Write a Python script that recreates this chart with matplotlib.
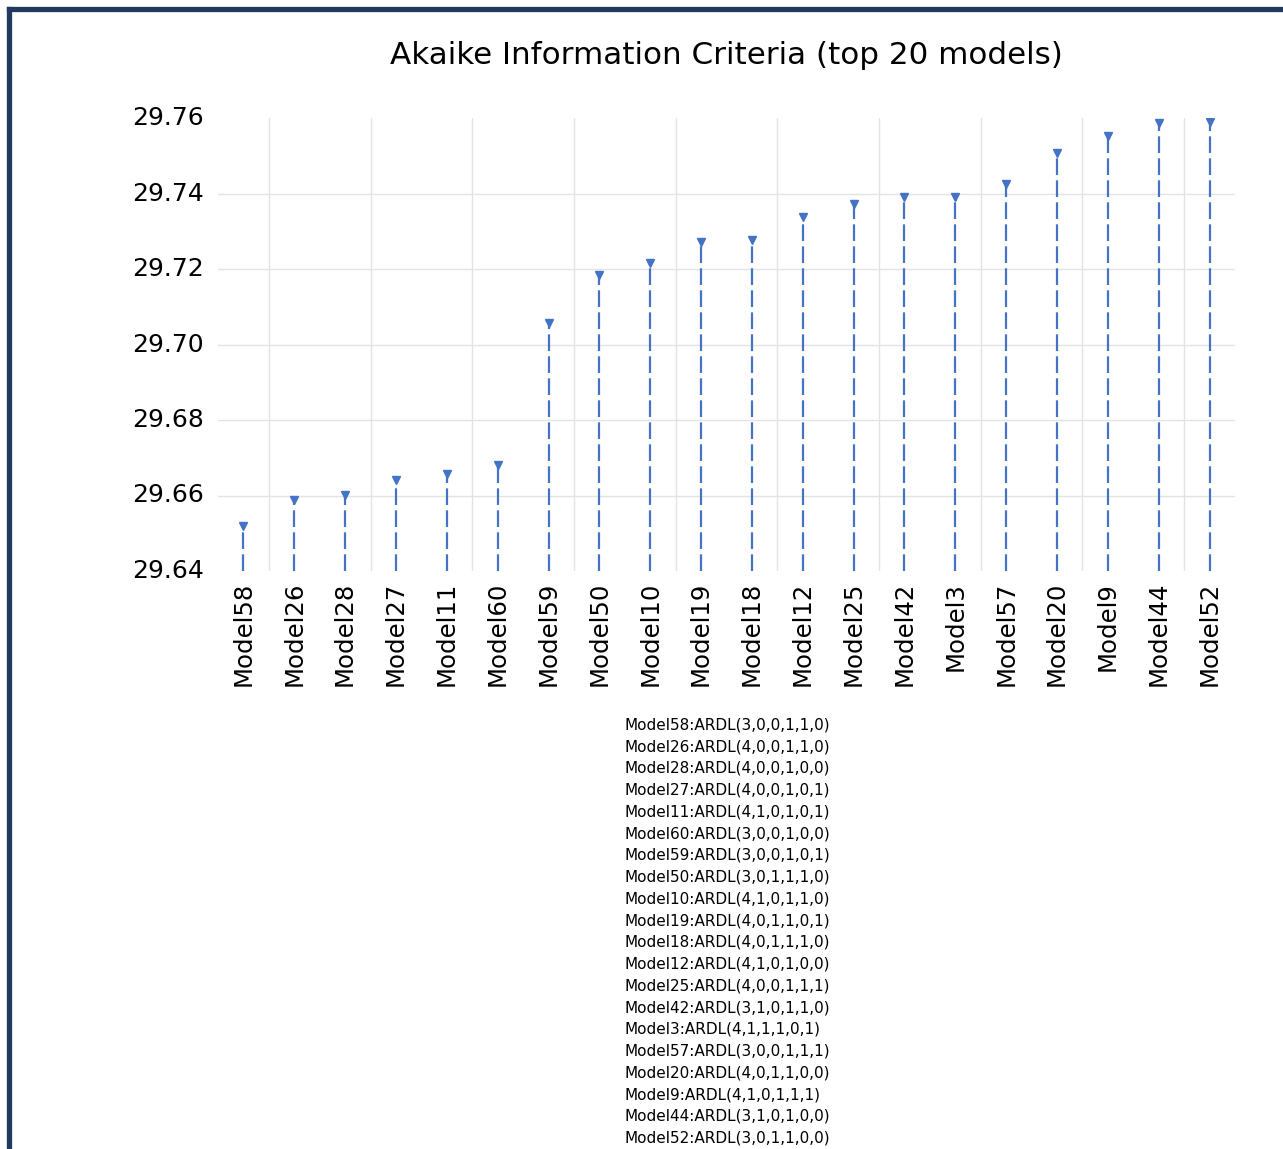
import matplotlib
matplotlib.use("Agg")
import matplotlib.pyplot as plt
from matplotlib.lines import Line2D

# Top 20 ARDL models ranked by Akaike Information Criterion
models = ["Model58", "Model26", "Model28", "Model27", "Model11", "Model60",
          "Model59", "Model50", "Model10", "Model19", "Model18", "Model12",
          "Model25", "Model42", "Model3", "Model57", "Model20", "Model9",
          "Model44", "Model52"]
aic = [29.6518, 29.6588, 29.6602, 29.6640, 29.6657, 29.6682,
       29.7057, 29.7183, 29.7216, 29.7272, 29.7278, 29.7338,
       29.7372, 29.7391, 29.7391, 29.7425, 29.7508, 29.7553,
       29.7587, 29.7589]
specs = ["ARDL(3,0,0,1,1,0)", "ARDL(4,0,0,1,1,0)", "ARDL(4,0,0,1,0,0)",
         "ARDL(4,0,0,1,0,1)", "ARDL(4,1,0,1,0,1)", "ARDL(3,0,0,1,0,0)",
         "ARDL(3,0,0,1,0,1)", "ARDL(3,0,1,1,1,0)", "ARDL(4,1,0,1,1,0)",
         "ARDL(4,0,1,1,0,1)", "ARDL(4,0,1,1,1,0)", "ARDL(4,1,0,1,0,0)",
         "ARDL(4,0,0,1,1,1)", "ARDL(3,1,0,1,1,0)", "ARDL(4,1,1,1,0,1)",
         "ARDL(3,0,0,1,1,1)", "ARDL(4,0,1,1,0,0)", "ARDL(4,1,0,1,1,1)",
         "ARDL(3,1,0,1,0,0)", "ARDL(3,0,1,1,0,0)"]
y_ticks = [29.64, 29.66, 29.68, 29.70, 29.72, 29.74, 29.76]
title = "Akaike Information Criteria (top 20 models)"

W, H = 1283, 1149
fig = plt.figure(figsize=(W / 100, H / 100), dpi=100)
fig.patch.set_facecolor("white")
ax = fig.add_axes([218 / W, 1 - 571 / H, (1235 - 218) / W, (571 - 118) / H])

blue = "#4472c4"
grid_c = "#e3e3e3"
x = list(range(len(models)))
ymin, ymax = y_ticks[0], y_ticks[-1]

# gridlines
for yv in y_ticks[1:-1]:
    ax.axhline(yv, color=grid_c, lw=1.0, zorder=0)
for xb in x[:-1:2]:
    ax.axvline(xb + 0.5, color=grid_c, lw=1.0, zorder=0)

# dashed drop lines with triangle markers
ax.vlines(x, ymin, aic, colors=blue, linewidth=1.6,
          linestyles=[(0, (7.5, 2.4))], zorder=2)
ax.plot(x, aic, linestyle="none", marker="v", markersize=6,
        color=blue, zorder=3)

ax.set_xlim(-0.5, len(models) - 0.5)
ax.set_ylim(ymin, ymax)
ax.set_yticks(y_ticks)
ax.set_yticklabels([f"{v:.2f}" for v in y_ticks], fontsize=18,
                   family="DejaVu Sans", va="center")
ax.set_xticks(x)
ax.set_xticklabels(models, rotation=90, fontsize=17.6, family="DejaVu Sans")
ax.tick_params(axis="x", length=0, pad=8)
ax.tick_params(axis="y", length=0, pad=10)
for s in ax.spines.values():
    s.set_visible(False)

ax.set_title(title, fontsize=22.3, family="DejaVu Sans", pad=39)

# model specification list under the chart
for i, (m, s) in enumerate(zip(models, specs)):
    fig.text(624 / W, 1 - (725 + i * 21.74) / H, f"{m}:{s}",
             fontsize=11, family="DejaVu Sans", ha="left", va="center")

# frame around the chart
edge = "#1f3a5c"
bx, by = 8.5 / W, 1 - 8.5 / H
fig.add_artist(Line2D([bx, bx], [by, 0], transform=fig.transFigure,
                      color=edge, lw=3.8, solid_capstyle="projecting"))
fig.add_artist(Line2D([bx, 1], [by, by], transform=fig.transFigure,
                      color=edge, lw=3.8, solid_capstyle="projecting"))

fig.savefig("out.png", dpi=100)
